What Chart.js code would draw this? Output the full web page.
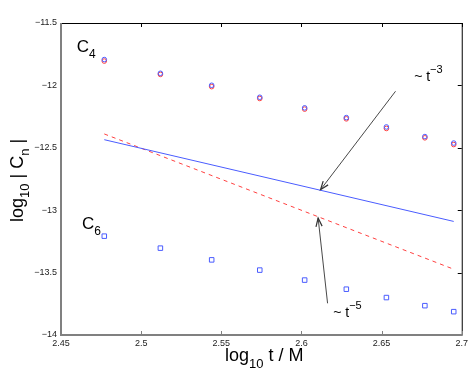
<!doctype html>
<html lang="en">
<head>
    <meta charset="utf-8">
    <title>log10 |Cn| vs log10 t/M</title>
    <style>
        body, html { margin: 0; padding: 0; background: #fff; overflow: hidden; }
        .chart-container { position: relative; width: 471px; height: 375px; }
    </style>
    <script src="https://cdn.jsdelivr.net/npm/chart.js@4/dist/chart.umd.min.js"></script>
</head>
<body>
    <div class="chart-container"><canvas id="chart"></canvas></div>
    <script>
        // log10 t / M sample positions
        const logT = [2.477, 2.512, 2.544, 2.574, 2.602, 2.628, 2.653, 2.677, 2.695];
        // C4: two overlaid runs (blue / red circles)
        const c4Blue = [-11.793, -11.903, -11.999, -12.095, -12.180, -12.258, -12.333, -12.410, -12.462];
        const c4Red = [-11.805, -11.912, -12.010, -12.105, -12.190, -12.268, -12.345, -12.420, -12.474];
        // C6 squares
        const c6Blue = [-13.208, -13.304, -13.398, -13.480, -13.560, -13.633, -13.700, -13.765, -13.813];
        // reference slopes ~t^-3 and ~t^-5
        const lineX = [2.477, 2.695];
        const slope3 = [-12.435, -13.090];
        const slope5 = [-12.389, -13.473];
        const xTicks = [2.45, 2.5, 2.55, 2.6, 2.65, 2.7];
        const yTicks = [-14, -13.5, -13, -12.5, -12, -11.5];

        const blue = "#4a5cff";
        const red = "#ff4040";
        const font = "'Liberation Sans', Arial, sans-serif";

        const pts = (xs, ys) => xs.map((x, i) => ({ x: x, y: ys[i] }));

        // labels and arrows, positioned in data units
        const labels = [
            { x: 2.4598, y: -11.731, main: "C", sub: "4", size: 17 },
            { x: 2.4631, y: -13.152, main: "C", sub: "6", size: 17 },
            { x: 2.6703, y: -11.967, main: "~ t", sup: "\u22123", size: 14 },
            { x: 2.6198, y: -13.853, main: "~ t", sup: "\u22125", size: 14 },
        ];
        const arrows = [
            { from: [2.6587, -12.047], to: [2.6119, -12.836] },
            { from: [2.6163, -13.746], to: [2.6104, -13.063] },
        ];

        function richText(ctx, x, y, parts) {
            parts.forEach((p) => {
                ctx.font = p.size + "px " + font;
                ctx.fillText(p.t, x, y + (p.dy || 0));
                x += ctx.measureText(p.t).width;
            });
        }

        const decor = {
            id: "decor",
            afterDatasetsDraw(chart) {
                const { ctx, chartArea: a, scales } = chart;
                const sx = scales.x, sy = scales.y;
                ctx.save();
                // frame: grey left/bottom, black top/right
                ctx.lineWidth = 1;
                ctx.strokeStyle = "#000";
                ctx.beginPath();
                ctx.moveTo(a.left, a.top + 0.5);
                ctx.lineTo(a.right + 0.5, a.top + 0.5);
                ctx.lineTo(a.right + 0.5, a.bottom);
                ctx.stroke();
                xTicks.forEach((v) => {
                    const px = Math.round(sx.getPixelForValue(v)) + 0.5;
                    ctx.beginPath();
                    ctx.moveTo(px, a.top);
                    ctx.lineTo(px, a.top + 4);
                    ctx.stroke();
                });
                yTicks.forEach((v) => {
                    const py = Math.round(sy.getPixelForValue(v)) + 0.5;
                    ctx.beginPath();
                    ctx.moveTo(a.right, py);
                    ctx.lineTo(a.right - 4, py);
                    ctx.stroke();
                });
                ctx.strokeStyle = "#808080";
                xTicks.forEach((v) => {
                    const px = Math.round(sx.getPixelForValue(v)) + 0.5;
                    ctx.beginPath();
                    ctx.moveTo(px, a.bottom);
                    ctx.lineTo(px, a.bottom - 4);
                    ctx.stroke();
                });
                ctx.lineWidth = 2;
                ctx.beginPath();
                ctx.moveTo(a.left, a.top);
                ctx.lineTo(a.left, a.bottom);
                ctx.lineTo(a.right + 1, a.bottom);
                ctx.stroke();

                // arrows
                ctx.strokeStyle = "#333";
                ctx.lineWidth = 0.9;
                arrows.forEach((ar) => {
                    const x0 = sx.getPixelForValue(ar.from[0]), y0 = sy.getPixelForValue(ar.from[1]);
                    const x1 = sx.getPixelForValue(ar.to[0]), y1 = sy.getPixelForValue(ar.to[1]);
                    const ang = Math.atan2(y1 - y0, x1 - x0);
                    ctx.beginPath();
                    ctx.moveTo(x0, y0);
                    ctx.lineTo(x1, y1);
                    ctx.stroke();
                    ctx.lineWidth = 1.2;
                    ctx.beginPath();
                    ctx.moveTo(x1 - 9 * Math.cos(ang - 0.35), y1 - 9 * Math.sin(ang - 0.35));
                    ctx.lineTo(x1, y1);
                    ctx.lineTo(x1 - 9 * Math.cos(ang + 0.35), y1 - 9 * Math.sin(ang + 0.35));
                    ctx.stroke();
                    ctx.lineWidth = 0.9;
                });

                // text labels
                ctx.fillStyle = "#000";
                ctx.textBaseline = "alphabetic";
                ctx.textAlign = "left";
                labels.forEach((l) => {
                    const px = sx.getPixelForValue(l.x), py = sy.getPixelForValue(l.y);
                    const parts = [{ t: l.main, size: l.size }];
                    if (l.sub) parts.push({ t: l.sub, size: Math.round(l.size * 0.7), dy: 6 });
                    if (l.sup) parts.push({ t: l.sup, size: Math.round(l.size * 0.75), dy: -8 });
                    richText(ctx, px, py, parts);
                });

                // axis titles
                richText(ctx, 225, 361, [
                    { t: "log", size: 18 }, { t: "10", size: 13, dy: 7 }, { t: " t / M", size: 18 },
                ]);
                ctx.translate(23, 222);
                ctx.rotate(-Math.PI / 2);
                richText(ctx, 0, 0, [
                    { t: "log", size: 18 }, { t: "10", size: 13, dy: 6 }, { t: " | C", size: 18 },
                    { t: "n", size: 13, dy: 6 }, { t: " |", size: 18 },
                ]);
                ctx.restore();
            },
        };

        const ctx = document.getElementById("chart").getContext("2d");
        new Chart(ctx, {
            type: "scatter",
            data: {
                datasets: [
                    {
                        label: "t^-3", data: pts(lineX, slope3), showLine: true,
                        borderColor: blue, borderWidth: 1, pointRadius: 0,
                    },
                    {
                        label: "t^-5", data: pts(lineX, slope5), showLine: true,
                        borderColor: red, borderWidth: 1, borderDash: [4, 4], pointRadius: 0,
                    },
                    {
                        label: "C4 a", data: pts(logT, c4Blue), pointStyle: "circle",
                        pointRadius: 2.3, borderColor: blue, backgroundColor: "transparent", borderWidth: 1,
                    },
                    {
                        label: "C4 b", data: pts(logT, c4Red), pointStyle: "circle",
                        pointRadius: 2.3, borderColor: red, backgroundColor: "transparent", borderWidth: 1,
                    },
                    {
                        label: "C6", data: pts(logT, c6Blue), pointStyle: "rect",
                        pointRadius: 3.2, borderColor: blue, backgroundColor: "transparent", borderWidth: 1,
                    },
                ],
            },
            options: {
                responsive: true,
                maintainAspectRatio: false,
                animation: false,
                events: [],
                layout: { padding: { top: 23, right: 9, left: 0, bottom: 0 } },
                plugins: { legend: { display: false }, tooltip: { enabled: false } },
                scales: {
                    x: {
                        type: "linear", min: 2.45, max: 2.7,
                        afterFit: (s) => { s.height = 40; },
                        afterBuildTicks: (s) => { s.ticks = xTicks.map((v) => ({ value: v })); },
                        grid: { display: false, drawTicks: false },
                        border: { display: false },
                        ticks: {
                            padding: 3, color: "#222", font: { family: font, size: 9 },
                            callback: (v) => String(v),
                        },
                    },
                    y: {
                        type: "linear", min: -14, max: -11.5,
                        afterFit: (s) => { s.width = 61; },
                        afterBuildTicks: (s) => { s.ticks = yTicks.map((v) => ({ value: v })); },
                        grid: { display: false, drawTicks: false },
                        border: { display: false },
                        ticks: {
                            padding: 4, color: "#222", font: { family: font, size: 9 },
                            callback: (v) => String(v).replace("-", "\u2212"),
                        },
                    },
                },
            },
            plugins: [decor],
        });
    </script>
</body>
</html>
